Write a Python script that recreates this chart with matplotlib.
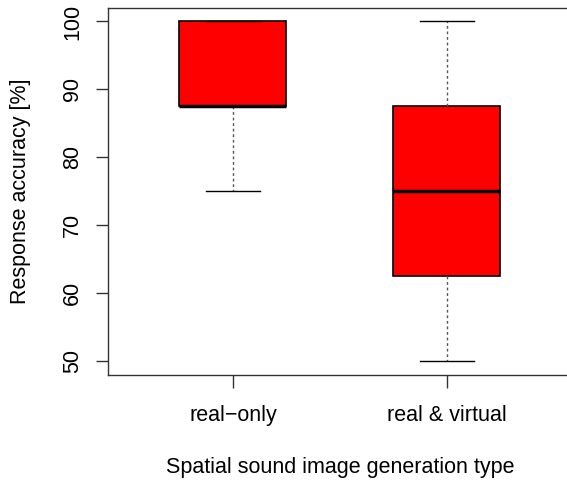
import matplotlib
matplotlib.use('Agg')
import matplotlib.pyplot as plt

plt.rcParams['font.family'] = ['Liberation Sans', 'DejaVu Sans']

categories = ['real\u2212only', 'real & virtual']
whislo = [75, 50]
q1 = [87.5, 62.5]
med = [87.5, 75]
q3 = [100, 87.5]
whishi = [100, 100]

stats = []
for i in range(len(categories)):
    stats.append(dict(label=categories[i], whislo=whislo[i], q1=q1[i],
                      med=med[i], q3=q3[i], whishi=whishi[i], fliers=[]))

fig = plt.figure(figsize=(5.67, 4.8), dpi=100)
ax = fig.add_axes([0.1905, 0.219, 0.818, 0.7646])

ax.bxp(stats, positions=[1, 2], widths=0.5, patch_artist=True, showfliers=False,
       boxprops=dict(facecolor='red', edgecolor='black', linewidth=1.2),
       medianprops=dict(color='black', linewidth=2.5),
       whiskerprops=dict(color='#555555', linestyle=(0, (2, 2)), linewidth=1),
       capprops=dict(color='black', linewidth=1), capwidths=0.25)

ax.set_xlim(0.416, 2.584)
ax.set_ylim(48, 102)
ax.set_yticks([50, 60, 70, 80, 90, 100])
ax.set_yticklabels(['50', '60', '70', '80', '90', '100'], rotation=90, va='center')
ax.set_xticks([1, 2])
ax.set_xticklabels(categories)
ax.tick_params(axis='both', length=9, width=1, color='#333333', labelsize=15.5)
ax.tick_params(axis='x', pad=13)
ax.tick_params(axis='y', pad=9)

for s in ax.spines.values():
    s.set_color('#333333')
    s.set_linewidth(1)

ax.set_xlabel('Spatial sound image generation type', fontsize=15.5, labelpad=22)
ax.set_ylabel('Response accuracy [%]', fontsize=15.5, labelpad=22)

fig.savefig('out.png', dpi=100)
